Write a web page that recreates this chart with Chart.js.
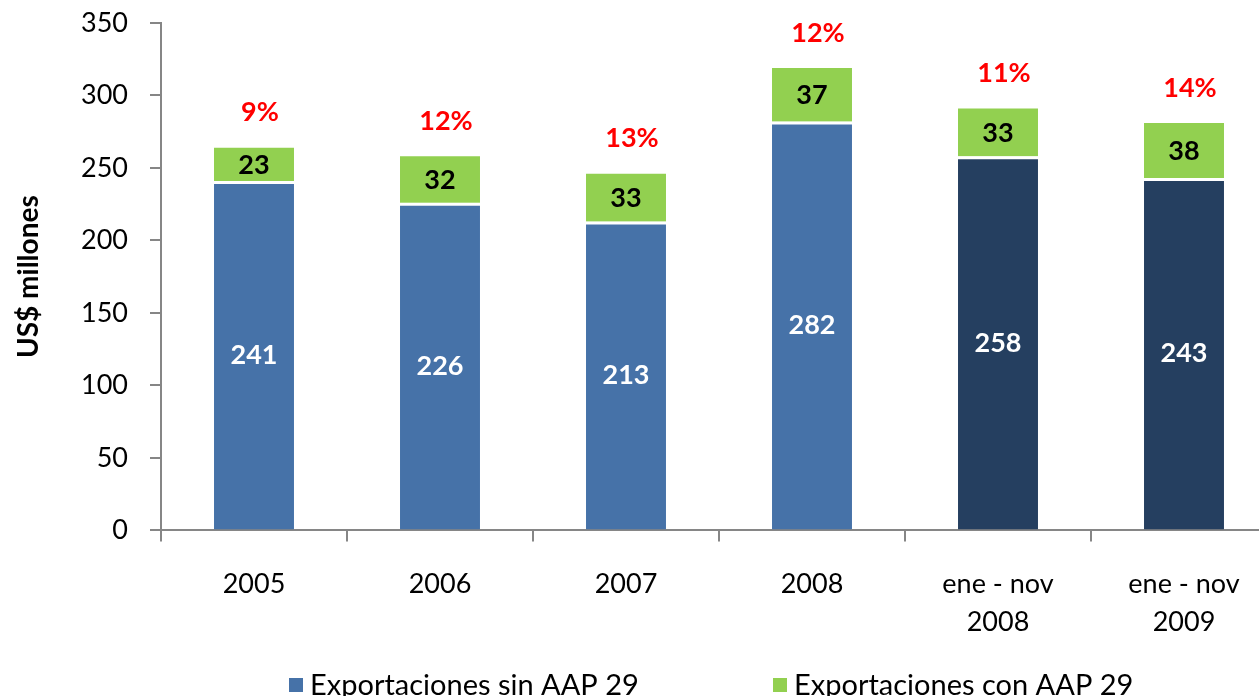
<!DOCTYPE html>
<html>
<head>
<meta charset="utf-8">
<script src="https://cdn.jsdelivr.net/npm/chart.js@4/dist/chart.umd.min.js"></script>
<style>
  html, body { margin: 0; padding: 0; background: #fff; overflow: hidden; }
  #wrap { width: 1280px; height: 696px; }
</style>
</head>
<body>
<div id="wrap"><canvas id="chart" width="1280" height="696"></canvas></div>
<script>
// data
let categories = ['2005', '2006', '2007', '2008', ['ene - nov', '2008'], ['ene - nov', '2009']];
let sinAAP = [241, 226, 213, 282, 258, 243];
let conAAP = [23, 32, 33, 37, 33, 38];
let shares = [9, 12, 13, 12, 11, 14];
let yTicks = [0, 50, 100, 150, 200, 250, 300, 350];

let blue = '#4672a8';
let navy = '#253f60';
let green = '#92d050';
let fontFam = 'Lato, "Open Sans", sans-serif';

let blueColors = sinAAP.map(function (v, i) { return i < 4 ? blue : navy; });

// labels inside bars, red shares on top, and the legend under the axis
let labelPlugin = {
    id: 'labels',
    afterDatasetsDraw: function (chart) {
        let ctx = chart.ctx;
        let m0 = chart.getDatasetMeta(0);
        let m1 = chart.getDatasetMeta(1);
        ctx.save();
        ctx.textAlign = 'center';
        ctx.textBaseline = 'middle';
        ctx.font = 'bold 27px ' + fontFam;
        for (let i = 0; i < sinAAP.length; i++) {
            let b = m0.data[i];
            let g = m1.data[i];
            ctx.fillStyle = '#ffffff';
            ctx.fillText(sinAAP[i], b.x, (b.y + b.base) / 2);
            ctx.fillStyle = '#000000';
            ctx.fillText(conAAP[i], g.x, (g.y + g.base) / 2 + 1);
            ctx.fillStyle = '#ff0000';
            ctx.fillText(shares[i] + '%', g.x + 6, g.y - 35);
        }
        ctx.restore();
    },
    afterDraw: function (chart) {
        let ctx = chart.ctx;
        ctx.save();
        ctx.font = '29px ' + fontFam;
        ctx.textBaseline = 'middle';
        ctx.fillStyle = blue;
        ctx.fillRect(289, 678, 14, 14);
        ctx.fillStyle = '#000';
        ctx.fillText('Exportaciones sin AAP 29', 310, 686);
        ctx.fillStyle = green;
        ctx.fillRect(773, 678, 14, 14);
        ctx.fillStyle = '#000';
        ctx.fillText('Exportaciones con AAP 29', 794, 686);
        ctx.restore();
    }
};

let ctx = document.getElementById('chart').getContext('2d');
let chart = new Chart(ctx, {
    type: 'bar',
    data: {
        labels: categories,
        datasets: [{
            label: 'Exportaciones sin AAP 29',
            data: sinAAP,
            backgroundColor: blueColors,
            borderColor: '#ffffff',
            borderWidth: { top: 3, left: 0, right: 0, bottom: 0 },
            borderSkipped: false
        }, {
            label: 'Exportaciones con AAP 29',
            data: conAAP,
            backgroundColor: green,
            borderWidth: 0
        }]
    },
    options: {
        responsive: false,
        animation: false,
        layout: { padding: { top: 23, right: 3, bottom: 31, left: 0 } },
        datasets: { bar: { categoryPercentage: 1, barPercentage: 0.43 } },
        plugins: {
            legend: { display: false },
            tooltip: { enabled: false }
        },
        scales: {
            x: {
                stacked: true,
                grid: { display: true, drawOnChartArea: false, tickLength: 11, color: '#868686', lineWidth: 2 },
                border: { color: '#868686', width: 2 },
                ticks: { color: '#000', padding: 24, font: { family: fontFam, size: 27, lineHeight: 1.4 } }
            },
            y: {
                stacked: true,
                min: 0,
                max: 350,
                afterBuildTicks: function (scale) {
                    scale.ticks = yTicks.map(function (v) { return { value: v }; });
                },
                afterFit: function (scale) {
                    scale.width = 161;
                    scale.paddingTop = 0;
                    scale.paddingBottom = 0;
                },
                grid: { display: true, drawOnChartArea: false, tickLength: 11, color: '#868686', lineWidth: 2 },
                border: { color: '#868686', width: 2 },
                ticks: { color: '#000', padding: 22, font: { family: fontFam, size: 27 } },
                title: {
                    display: true,
                    text: 'US$ millones',
                    color: '#000',
                    padding: { top: 12, bottom: 0 },
                    font: { family: fontFam, size: 28, weight: 'bold' }
                }
            }
        }
    },
    plugins: [labelPlugin]
});
</script>
</body>
</html>
